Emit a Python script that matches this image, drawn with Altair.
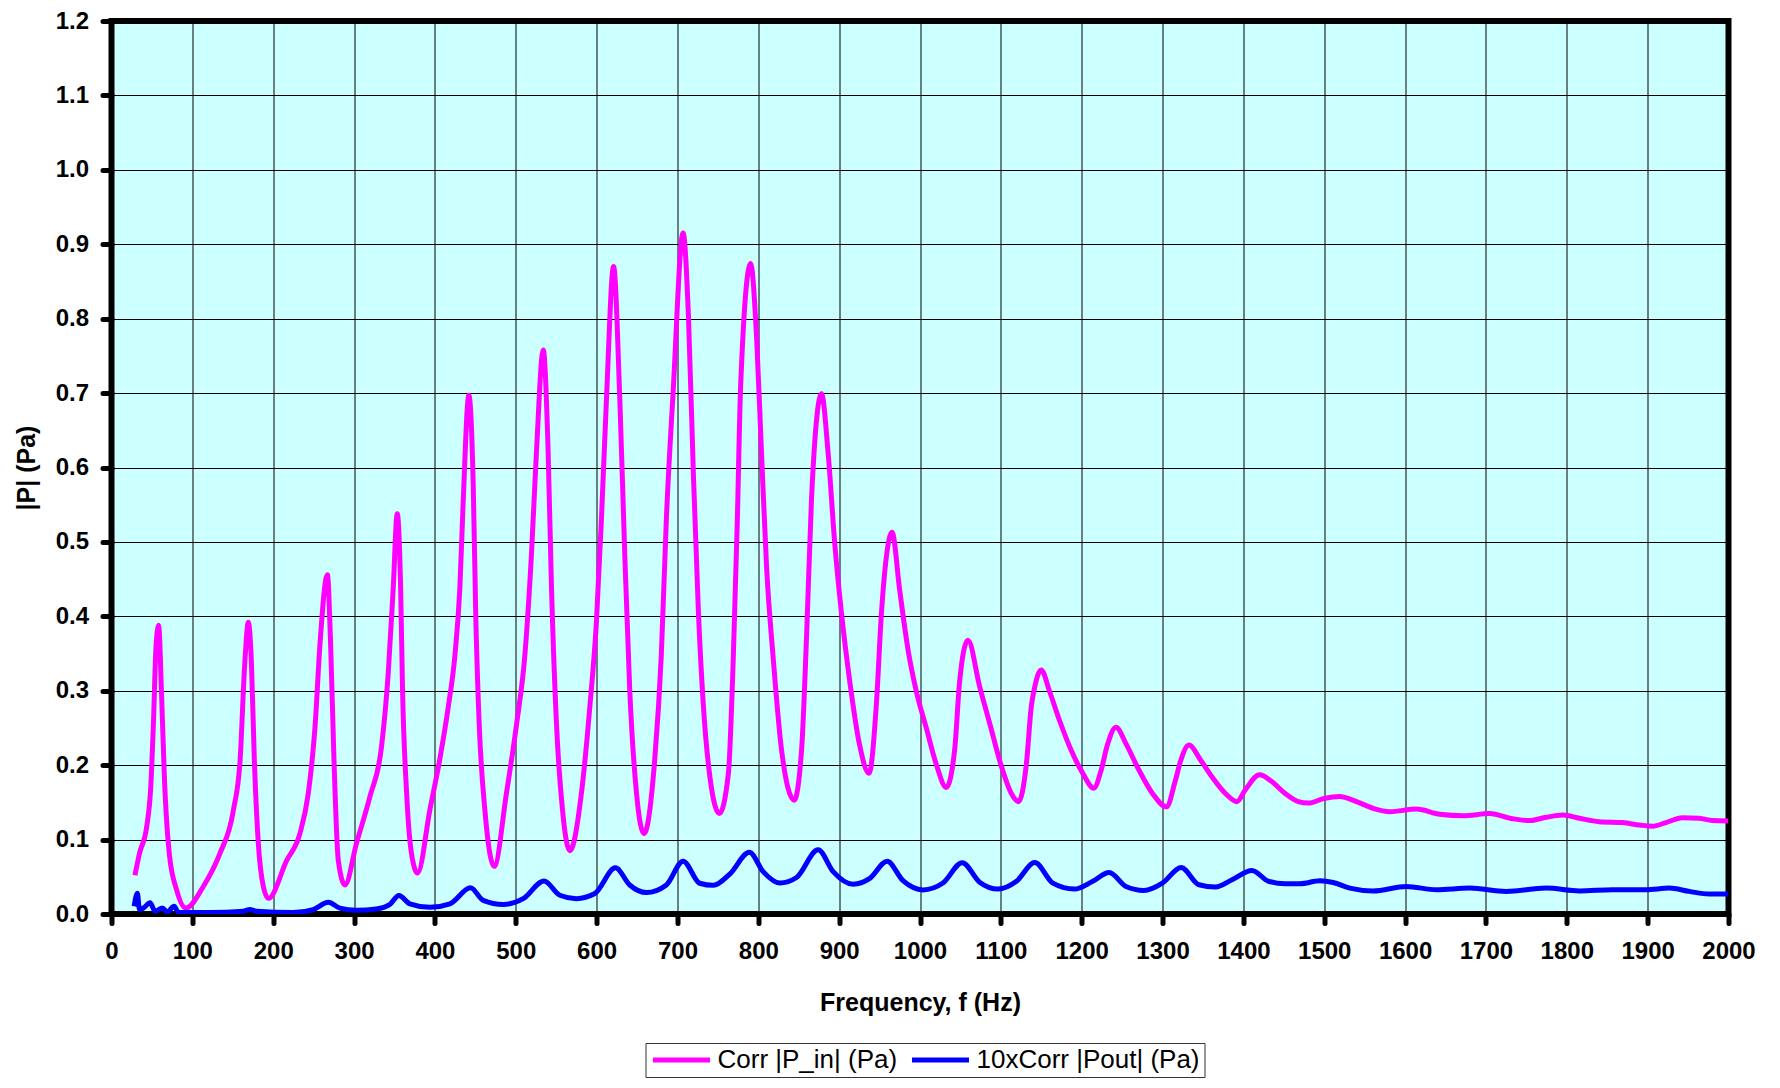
import altair as alt
import pandas as pd

# Corr |P_in| (Pa)
pin_freq = [29, 34.5, 43.5, 48.5, 51.7, 55, 58.3, 61.9, 65.4, 71.5, 80.6, 92, 113.6, 134, 150.7, 159, 165, 169.2,
            173, 176.7, 181.6, 187.8, 194, 216.7, 233, 243.4, 251.7, 257.9, 267, 271, 275.2, 280.5, 288.8, 303,
            319.7, 334, 342.3, 348.5, 353.4, 357.6, 360, 365, 371.2, 378.6, 393.8, 406.2, 416.5, 424.7, 430.9,
            435, 442, 447.4, 450.7, 454.8, 461.8, 473.3, 488.6, 501, 511.2, 519.5, 525.7, 534, 540, 544.2, 550.4,
            557.8, 566.9, 581.3, 591.6, 599.8, 606, 612.2, 621, 628.7, 634.8, 641, 649.3, 658.7, 672, 680, 686.3,
            694.6, 707, 713.6, 719.8, 726, 732, 740.3, 751.9, 763, 769, 774, 778.2, 790.5, 798, 804, 810.3, 818.5,
            828.8, 844.4, 853.5, 859.7, 865.8, 878.2, 886.4, 894.7, 902.9, 913.2, 925.5, 937, 946, 952.3, 958.4,
            965.4, 974.9, 985.2, 995.5, 1007.8, 1020.2, 1032.5, 1042.8, 1049, 1059.3, 1073.7, 1086.5, 1100.8,
            1113, 1122, 1131.6, 1137.8, 1141.9, 1150, 1160, 1172.6, 1187, 1201.4, 1214.9, 1224, 1232, 1242.4,
            1254.7, 1271, 1287.5, 1304.8, 1316, 1322.4, 1332.7, 1347, 1361.4, 1377.8, 1392, 1402.4, 1420, 1435,
            1451.6, 1468, 1480, 1499, 1519, 1540, 1560.5, 1581, 1614, 1643, 1672, 1704.5, 1733, 1754, 1774.5,
            1795, 1815.6, 1840, 1869, 1890, 1906, 1922.6, 1943, 1964, 1980, 2000]
pin_val = [0.052, 0.081, 0.117, 0.17, 0.251, 0.358, 0.388, 0.296, 0.184, 0.081, 0.032, 0.008, 0.037, 0.081, 0.139,
           0.206, 0.34, 0.392, 0.34, 0.206, 0.095, 0.037, 0.021, 0.072, 0.108, 0.162, 0.251, 0.363, 0.456, 0.363,
           0.206, 0.072, 0.039, 0.095, 0.158, 0.225, 0.324, 0.439, 0.538, 0.439, 0.301, 0.163, 0.080, 0.055,
           0.140, 0.209, 0.278, 0.347, 0.439, 0.554, 0.697, 0.577, 0.393, 0.255, 0.140, 0.064, 0.163, 0.255,
           0.347, 0.485, 0.623, 0.758, 0.623, 0.439, 0.255, 0.140, 0.085, 0.163, 0.278, 0.393, 0.531, 0.692,
           0.87, 0.692, 0.485, 0.301, 0.163, 0.108, 0.209, 0.347, 0.531, 0.70, 0.915, 0.803, 0.588, 0.404, 0.281,
           0.183, 0.135, 0.189, 0.342, 0.527, 0.711, 0.874, 0.772, 0.619, 0.465, 0.343, 0.220, 0.153, 0.220,
           0.373, 0.557, 0.699, 0.619, 0.496, 0.404, 0.312, 0.226, 0.189, 0.281, 0.404, 0.48, 0.513, 0.435,
           0.355, 0.299, 0.250, 0.201, 0.170, 0.220, 0.312, 0.368, 0.306, 0.255, 0.198, 0.162, 0.151, 0.202,
           0.280, 0.305, 0.328, 0.300, 0.260, 0.220, 0.189, 0.169, 0.193, 0.228, 0.251, 0.229, 0.193, 0.162,
           0.144, 0.180, 0.206, 0.227, 0.207, 0.184, 0.162, 0.151, 0.167, 0.187, 0.178, 0.162, 0.151, 0.149,
           0.155, 0.158, 0.151, 0.142, 0.1375, 0.141, 0.134, 0.132, 0.135, 0.128, 0.1255, 0.130, 0.133, 0.1286,
           0.124, 0.1228, 0.1196, 0.118, 0.1228, 0.1295, 0.1286, 0.1255, 0.125]

# 10xCorr |Pout| (Pa)
pout_freq = [28, 32, 34.6, 39.5, 47.7, 54, 63, 69, 77.4, 82.7, 122, 163, 171, 179.4, 224.7, 249.4, 268.3, 282.3,
             302.9, 327.6, 344, 355.5, 369, 393.8, 418.5, 444, 459.7, 484.5, 509.2, 535, 554.5, 575, 597.8, 623.3,
             641, 661.6, 686.3, 707, 727.5, 744.4, 765, 788.9, 806, 826.7, 847.3, 874, 892.6, 917.3, 937.9, 959.3,
             979, 1003.7, 1028.4, 1052.2, 1073.7, 1096.7, 1119.3, 1141.9, 1164.4, 1191, 1213.7, 1234, 1254.7, 1277,
             1299.8, 1323, 1345, 1365.5, 1386, 1410.6, 1431, 1451.6, 1470, 1494.7, 1511, 1531.7, 1560.5, 1601.6,
             1638.7, 1680, 1725, 1774.5, 1815.6, 1856.8, 1898, 1926.7, 1951.4, 1976, 2000]
pout_val = [0.0104, 0.028, 0.006, 0.008, 0.015, 0.0036, 0.008, 0.0027, 0.0103, 0.0022, 0.002, 0.0036, 0.006,
            0.0036, 0.002, 0.006, 0.0157, 0.008, 0.005, 0.0068, 0.0126, 0.0250, 0.0137, 0.009, 0.0137, 0.0353,
            0.0183, 0.0128, 0.0206, 0.0445, 0.0252, 0.0206, 0.0275, 0.062, 0.039, 0.0288, 0.039, 0.071, 0.0413,
            0.0385, 0.054, 0.083, 0.057, 0.0416, 0.049, 0.0864, 0.057, 0.040, 0.0478, 0.071, 0.0447, 0.0324,
            0.0416, 0.069, 0.0428, 0.0335, 0.044, 0.0692, 0.0415, 0.0335, 0.044, 0.0558, 0.037, 0.0317, 0.0415,
            0.0625, 0.0393, 0.0362, 0.046, 0.0585, 0.044, 0.0406, 0.0406, 0.0446, 0.0424, 0.0348, 0.031, 0.037,
            0.0326, 0.0348, 0.0304, 0.0348, 0.031, 0.0326, 0.0326, 0.0348, 0.0304, 0.0268, 0.0268]

series_names = ["Corr |P_in| (Pa)", "10xCorr |Pout| (Pa)"]
series_colors = ["#FF00FF", "#0000FF"]
x_ticks = list(range(0, 2001, 100))
y_ticks = [round(i * 0.1, 1) for i in range(13)]

df = pd.concat([
    pd.DataFrame({"f": pin_freq, "p": pin_val, "series": series_names[0], "order": range(len(pin_freq))}),
    pd.DataFrame({"f": pout_freq, "p": pout_val, "series": series_names[1], "order": range(len(pout_freq))}),
])

FONT = "Liberation Sans"

chart = alt.Chart(df).mark_line(strokeWidth=5, interpolate="monotone", clip=True).encode(
    x=alt.X("f:Q", scale=alt.Scale(domain=[0, 2000], nice=False),
            axis=alt.Axis(title="Frequency, f (Hz)", values=x_ticks, format="d", labelFlush=False,
                          titlePadding=27)),
    y=alt.Y("p:Q", scale=alt.Scale(domain=[0, 1.2], nice=False),
            axis=alt.Axis(title="|P| (Pa)", values=y_ticks, format=".1f", titlePadding=16)),
    color=alt.Color("series:N", scale=alt.Scale(domain=series_names, range=series_colors),
                    legend=alt.Legend(orient="none", legendX=534, legendY=1022, direction="horizontal",
                                      title=None, symbolType="M-1,0H5", symbolSize=361, symbolStrokeWidth=5,
                                      labelFont=FONT, labelFontSize=26, labelColor="black",
                                      strokeColor="#333333", fillColor="white", padding=4,
                                      columnPadding=4, labelOffset=42, labelLimit=0)),
    detail="series:N",
    order="order:Q",
).properties(
    width=1617, height=893,
    autosize=alt.AutoSizeParams(type="none"),
    padding={"left": 103.5, "top": 13, "right": 30, "bottom": 166},
).configure_view(
    fill="#CCFFFF", stroke="black", strokeWidth=6,
).configure_axis(
    domain=False, grid=True, gridColor="black", gridWidth=1, gridOpacity=1,
    tickColor="black", tickWidth=5, tickSize=9, tickCap="round",
    labelFont=FONT, labelFontSize=24, labelFontWeight="bold", labelColor="black",
    titleFont=FONT, titleFontSize=25, titleFontWeight="bold", titleColor="black",
    labelPadding=14,
).configure_axisX(labelPadding=16)

chart.save("out.html", embed_options={"renderer": "svg", "actions": False})
